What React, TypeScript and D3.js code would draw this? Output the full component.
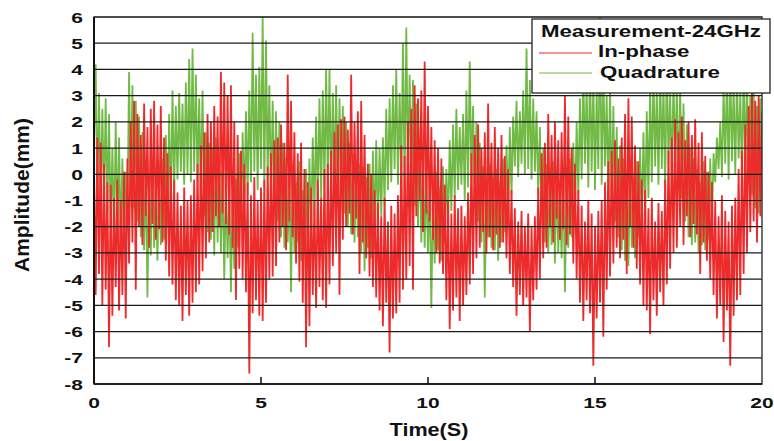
import React from 'react';
import * as d3 from 'd3';

// axis ranges and ticks
const timeDomain = [0, 20];
const ampDomain = [-8, 6];
const xTicks = [0, 5, 10, 15, 20];
const yTicks = [6, 5, 4, 3, 2, 1, 0, -1, -2, -3, -4, -5, -6, -7, -8];

const legendTitle = 'Measurement-24GHz';
const seriesNames = ['In-phase', 'Quadrature'];

// samples every 0.05 s, 0..20 s
const inPhase = [
  0.2, -4.6, 1.4, -3.8, 1.2, -5.0, 0.4, -4.4, -0.3, -6.6,
  -0.4, -5.4, -0.9, -4.3, -0.2, -5.2, -1.0, -4.6, 0.1, -5.5,
  0.6, -3.4, 2.0, -2.6, 2.8, -4.4, 2.3, -2.0, 1.5, -2.7,
  2.7, -1.6, 1.8, -2.8, 2.5, -1.9, 2.8, -2.5, 1.9, -2.1,
  2.6, -2.6, 1.4, -3.3, 0.8, -3.9, 0.3, -4.2, -0.2, -4.8,
  -0.7, -5.0, -1.2, -5.6, -0.5, -4.6, -1.0, -5.4, -0.8, -4.9,
  -0.2, -4.5, 0.4, -4.2, 1.1, -3.7, 1.6, -3.2, 2.3, -2.6,
  2.0, -2.2, 2.6, -1.6, 2.2, -2.0, 3.9, -1.5, 3.5, -1.9,
  3.0, -2.3, 3.4, -2.8, 2.0, -4.8, 1.5, -3.6, 0.9, -4.0,
  0.4, -4.5, -0.3, -7.6, -0.8, -5.3, -0.1, -4.8, -1.0, -5.4,
  -0.5, -5.6, -0.2, -4.9, 0.3, -4.0, 0.8, -3.9, 1.3, -3.5,
  1.4, -2.6, 1.9, -2.0, 1.2, -2.9, 3.8, -1.8, 2.8, -2.4,
  1.6, -3.4, 0.8, -4.1, 1.2, -4.9, 0.2, -6.6, -0.3, -5.8,
  -0.5, -4.6, -1.0, -5.1, -0.2, -4.3, -0.9, -4.8, 0.2, -5.1,
  0.4, -4.2, 0.9, -3.5, 1.6, -3.0, 1.9, -4.6, 2.1, -2.5,
  2.2, -2.0, 1.7, -1.5, 3.8, -2.3, 2.0, -1.7, 2.4, -3.8,
  2.8, -2.6, 1.5, -3.2, 0.4, -3.9, 0.0, -4.3, -0.6, -4.7,
  -1.1, -5.2, -1.6, -5.8, -0.9, -4.9, -1.8, -6.8, -1.2, -5.5,
  -1.5, -5.3, -0.8, -4.9, 1.1, -4.4, 0.7, -4.0, 2.0, -3.5,
  2.5, -4.4, 3.4, -1.6, 2.9, -1.0, 3.2, -2.2, 4.3, -1.5,
  2.6, -1.8, 1.8, -2.5, 1.3, -3.0, 1.0, -3.4, 0.6, -3.8,
  -0.4, -4.8, -1.0, -5.9, -1.5, -5.2, -0.8, -4.7, -1.3, -5.6,
  -1.2, -5.0, -1.6, -4.6, -0.7, -4.2, 0.8, -3.8, 1.5, -3.2,
  1.9, -2.8, 1.0, -2.2, 1.6, -3.0, 2.7, -2.4, 1.2, -2.9,
  1.8, -2.3, 1.0, -2.8, 1.5, -2.6, 0.7, -3.2, 0.2, -3.8,
  -0.6, -4.3, -1.3, -5.4, -1.8, -4.6, -1.4, -5.0, -2.0, -4.7,
  -1.5, -6.0, -2.0, -4.8, -1.6, -4.4, -0.5, -4.0, 0.8, -3.2,
  1.2, -2.8, 2.3, -2.0, 1.5, -2.6, 2.0, -1.7, 1.3, -2.5,
  1.6, -2.1, 3.0, -2.7, 2.2, -2.3, 1.0, -3.4, 0.4, -4.0,
  -0.6, -4.9, -1.2, -5.6, -1.8, -4.8, -1.0, -5.3, -1.5, -7.3,
  -2.0, -5.5, -1.4, -4.9, -1.0, -6.2, -0.3, -4.4, 0.5, -3.9,
  0.9, -3.4, 1.3, -2.8, 0.6, -3.2, 1.4, -2.5, 2.3, -3.8,
  2.9, -2.0, 2.2, -2.8, 1.1, -3.6, 0.5, -4.2, -0.2, -5.0,
  -0.6, -5.2, -1.3, -6.1, -0.9, -4.8, -1.8, -5.4, -1.1, -4.5,
  -1.4, -5.0, -0.2, -4.2, 0.9, -3.6, 1.4, -3.0, 2.1, -2.8,
  1.6, -2.0, 2.2, -2.7, 1.3, -1.6, 2.0, -2.4, 1.5, -1.9,
  2.1, -2.3, 1.2, -3.8, 1.6, -2.6, 0.7, -3.3, 0.1, -4.0,
  -0.3, -4.6, -1.0, -5.5, -1.6, -5.0, -0.8, -6.4, -1.4, -5.2,
  -1.8, -7.3, -1.2, -5.4, -0.9, -4.8, 0.2, -4.6, 0.9, -3.8,
  1.9, -3.0, 2.6, -2.2, 3.1, -1.8, 2.8, -2.6, 3.0, -1.6,
  2.4,
];

const quadrature = [
  1.2, 4.2, -0.8, 3.1, -1.2, 2.5, -1.0, 2.9, -1.5, 2.3,
  -2.0, 1.0, -2.4, 2.0, -2.2, 1.4, -2.7, 0.6, -2.8, 0.1,
  -1.6, 3.9, -1.0, 3.4, -1.3, 2.8, -1.8, 2.2, -2.4, 1.6,
  -2.9, 0.3, -4.7, -0.2, -3.1, 0.4, -2.8, -0.6, -3.3, 0.2,
  -2.7, 0.6, -2.5, 1.5, -2.0, 2.3, -1.4, 3.2, -0.6, 2.6,
  -0.2, 3.1, 0.1, 2.7, -0.4, 3.5, 0.0, 4.4, -0.3, 4.8,
  0.1, 3.8, -0.3, 2.9, -0.6, 3.2, -1.6, 1.6, -2.2, 1.2,
  -2.5, 1.0, -3.1, 1.4, -2.6, 0.6, -3.0, 0.2, -4.0, -0.4,
  -3.2, -0.6, -4.5, -1.0, -3.6, -0.2, -2.8, 0.8, -2.0, 1.6,
  -1.2, 2.4, -0.8, 3.2, -0.3, 5.4, 0.1, 3.8, -0.6, 4.1,
  0.2, 6.0, -0.5, 5.1, -0.2, 3.4, -0.9, 2.8, -1.4, 2.4,
  -1.8, 2.0, -2.4, 1.2, -2.8, 0.6, -2.6, -0.2, -4.5, 0.4,
  -3.0, -0.3, -2.6, 0.5, -3.3, -0.6, -2.9, 0.2, -3.1, 0.6,
  -2.2, 1.4, -1.6, 2.2, -1.2, 2.9, -0.9, 3.2, -0.5, 4.0,
  -0.4, 4.0, -0.8, 3.1, -0.3, 3.4, -1.2, 2.9, -0.7, 2.6,
  -1.5, 2.0, -2.0, 1.2, -2.3, 0.8, -2.6, 0.3, -2.4, 0.4,
  -3.0, 0.3, -3.7, -0.1, -2.8, 0.4, -3.2, 0.9, -2.2, 1.3,
  -2.0, 1.0, -1.6, 1.4, -1.2, 2.5, -0.6, 2.9, -0.3, 3.4,
  0.2, 4.0, -0.4, 3.1, 0.0, 5.0, -0.6, 5.6, 0.1, 3.8,
  -0.5, 3.6, -1.2, 2.7, -2.0, 1.4, -2.6, 0.5, -2.8, 0.0,
  -3.0, -0.4, -5.1, -0.8, -3.4, 0.1, -2.9, -0.5, -3.3, 0.3,
  -2.6, 0.2, -2.0, 1.3, -1.4, 1.9, -0.9, 2.5, -0.6, 1.8,
  -0.4, 2.3, -1.0, 3.2, -0.5, 4.3, -0.2, 2.6, -1.1, 2.0,
  -1.8, 1.2, -2.6, 0.3, -4.7, -0.2, -2.4, 0.4, -2.8, -0.1,
  -2.9, 0.2, -3.3, -0.3, -2.6, 0.6, -2.2, 1.1, -1.4, 1.8,
  -0.8, 2.2, 0.3, 2.8, -0.1, 2.4, 0.4, 3.2, 0.0, 4.8,
  0.2, 3.6, -0.2, 2.9, 0.1, 2.4, -0.8, 1.8, -1.6, 1.0,
  -2.6, 0.4, -3.0, -0.2, -2.7, 0.5, -3.4, 0.1, -3.0, -0.4,
  -3.2, 0.3, -4.5, -0.5, -2.8, 0.6, -2.4, 1.2, -1.6, 2.0,
  -0.8, 2.9, -0.2, 3.8, 0.4, 3.4, -0.5, 4.2, 0.1, 3.6,
  -0.6, 3.2, 0.2, 6.0, -0.4, 3.9, 0.3, 3.0, -0.9, 3.5,
  -1.2, 2.6, -1.8, 1.8, -2.4, 1.1, -2.9, 0.6, -3.3, 0.2,
  -3.5, 0.4, -2.8, -0.1, -3.2, 0.5, -2.4, 1.0, -2.0, 1.6,
  -1.6, 2.4, -0.9, 3.3, -0.3, 3.9, 0.3, 3.2, -0.4, 4.1,
  0.2, 3.5, -0.6, 4.4, 0.4, 3.1, -0.2, 3.7, 0.3, 3.3,
  -0.5, 3.4, -0.9, 2.7, -1.8, 1.9, -2.4, 1.0, -2.7, 0.6,
  -2.6, 0.2, -3.0, -0.3, -2.7, 0.5, -2.9, 0.1, -2.5, 0.6,
  -2.0, 0.8, -0.3, 1.4, 0.2, 2.0, -0.1, 3.3, 0.4, 3.9,
  -0.2, 4.2, 0.5, 3.4, 0.0, 3.8, 0.6, 3.1, -0.3, 4.0,
  0.3, 3.6, -0.4, 3.0, -0.8, 3.3, -1.3, 2.6, -1.5, 2.9,
  -1.0,
];

const RED = '#ee2b2b';
const GREEN = '#71ba45';
const FONT = '"Liberation Sans", Arial, sans-serif';

export default function App() {
  const width = 774;
  const height = 441;
  const left = 94, right = 762, top = 17, bottom = 384;

  const x = d3.scaleLinear().domain(timeDomain).range([left, right]);
  const y = d3.scaleLinear().domain(ampDomain).range([bottom, top]);

  const makePath = (vals: number[]) => {
    const step = (timeDomain[1] - timeDomain[0]) / (vals.length - 1);
    return d3
      .line<number>()
      .x((d, i) => x(i * step))
      .y((d) => y(d))(vals) as string;
  };

  return (
    <svg
      width={width}
      height={height}
      style={{ position: 'absolute', left: 0, top: 0, background: '#fff' }}
      fontFamily={FONT}
      fontWeight="bold"
    >
      <defs>
        <clipPath id="plot">
          <rect x={left} y={top} width={right - left} height={bottom - top} />
        </clipPath>
      </defs>

      <g clipPath="url(#plot)">
        <path d={makePath(quadrature)} fill="none" stroke={GREEN} strokeWidth={1.8} strokeLinejoin="miter" strokeMiterlimit={2} />
        <path d={makePath(inPhase)} fill="none" stroke={RED} strokeWidth={1.8} strokeLinejoin="miter" strokeMiterlimit={2} />
      </g>

      {/* grid */}
      {yTicks.map((t) => (
        <line key={t} x1={left} x2={right} y1={y(t)} y2={y(t)} stroke="#1a1a1a" strokeWidth={1.2} />
      ))}

      {/* frame */}
      <rect x={left} y={top} width={right - left} height={bottom - top} fill="none" stroke="#333" strokeWidth={1.4} />
      <line x1={left} x2={left} y1={top} y2={bottom} stroke="#111" strokeWidth={2} />
      <line x1={left} x2={right} y1={bottom} y2={bottom} stroke="#111" strokeWidth={1.6} />
      {xTicks.slice(1, -1).map((t) => (
        <line key={t} x1={x(t)} x2={x(t)} y1={bottom} y2={bottom - 7} stroke="#111" strokeWidth={1.5} />
      ))}

      {/* y tick labels */}
      {yTicks.map((t) => (
        <text
          key={t}
          transform={`translate(83,${y(t) + 5.5}) scale(1.4,1)`}
          textAnchor="end"
          fontSize={15}
          fill="#111"
        >
          {t}
        </text>
      ))}

      {/* x tick labels */}
      {xTicks.map((t) => (
        <text
          key={t}
          transform={`translate(${x(t)},408) scale(1.4,1)`}
          textAnchor="middle"
          fontSize={15}
          fill="#111"
        >
          {t}
        </text>
      ))}

      <text transform="translate(429,436) scale(1.2,1)" textAnchor="middle" fontSize={18} fill="#111">
        Time(S)
      </text>
      <text transform="translate(29,195) rotate(-90)" textAnchor="middle" fontSize={21} fill="#111">
        Amplitude(mm)
      </text>

      {/* legend */}
      <g>
        <rect x={532} y={19} width={238} height={74} fill="#fff" stroke="#222" strokeWidth={1.3} />
        <text transform="translate(541,37.3) scale(1.39,1)" fontSize={16} fill="#111">
          {legendTitle}
        </text>
        <line x1={539} x2={592} y1={53} y2={53} stroke={RED} strokeWidth={1.2} />
        <text transform="translate(598,57.3) scale(1.39,1)" fontSize={16} fill="#111">
          {seriesNames[0]}
        </text>
        <line x1={539} x2={592} y1={73} y2={73} stroke={GREEN} strokeWidth={1.2} />
        <text transform="translate(600,77.7) scale(1.39,1)" fontSize={16} fill="#111">
          {seriesNames[1]}
        </text>
      </g>
    </svg>
  );
}
